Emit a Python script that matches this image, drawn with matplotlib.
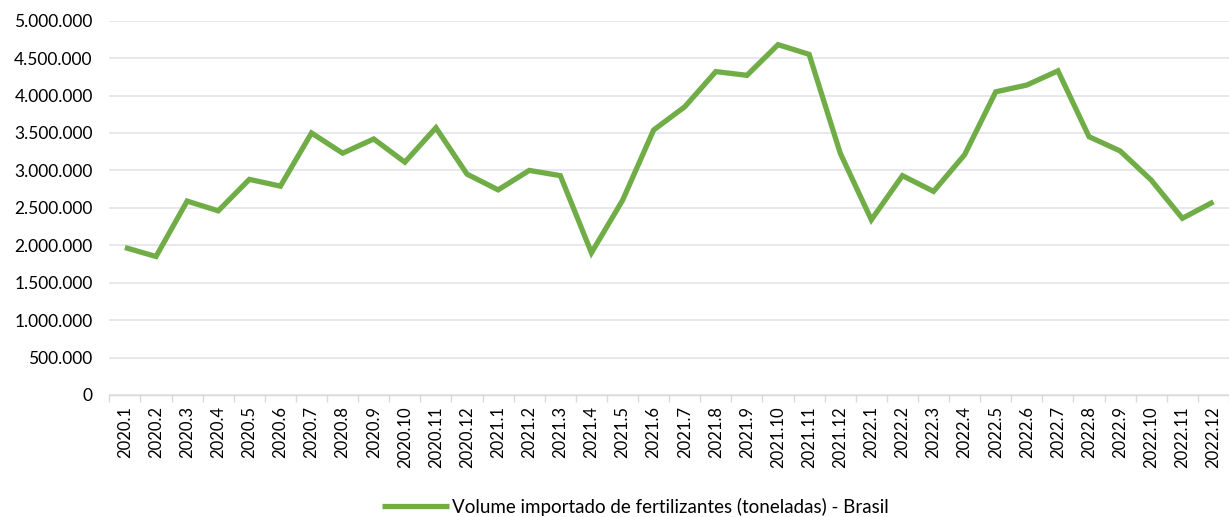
import matplotlib.pyplot as plt
from matplotlib.ticker import FuncFormatter, FixedLocator

plt.rcParams['font.family'] = ['Lato', 'DejaVu Sans']

meses = ['2020.%d' % m for m in range(1, 13)] + \
        ['2021.%d' % m for m in range(1, 13)] + \
        ['2022.%d' % m for m in range(1, 13)]

volume = [1970000, 1850000, 2590000, 2460000, 2880000, 2790000,
          3500000, 3230000, 3420000, 3110000, 3570000, 2950000,
          2740000, 3000000, 2930000, 1900000, 2600000, 3540000,
          3850000, 4320000, 4270000, 4680000, 4550000, 3230000,
          2340000, 2930000, 2720000, 3210000, 4050000, 4140000,
          4330000, 3450000, 3260000, 2870000, 2360000, 2580000]

serie = 'Volume importado de fertilizantes (toneladas) - Brasil'

fig = plt.figure(figsize=(12.29, 5.17), dpi=100)
ax = fig.add_axes([0.089, 0.236, 0.911, 0.724])

x = list(range(len(meses)))
ax.plot(x, volume, color='#70AD47', linewidth=3.8, solid_joinstyle='miter',
        solid_capstyle='butt', label=serie, zorder=3)

ax.set_xlim(-0.5, len(meses) - 0.5)
ax.set_ylim(0, 5000000)
ax.set_yticks(range(0, 5000001, 500000))
ax.yaxis.set_major_formatter(FuncFormatter(lambda v, p: '{:,.0f}'.format(v).replace(',', '.')))
ax.grid(axis='y', color='#e1e4ea', linewidth=1.2, zorder=0)

ax.set_xticks(x)
ax.set_xticklabels(meses, rotation=90, fontsize=12)
ax.xaxis.set_minor_locator(FixedLocator([i - 0.5 for i in range(len(meses) + 1)]))
ax.tick_params(axis='x', which='major', length=0, pad=8)
ax.tick_params(axis='x', which='minor', length=5, color='#d9d9d9', width=1)
ax.tick_params(axis='y', length=0, labelsize=12.5, pad=12)

for s in ['top', 'right', 'left']:
    ax.spines[s].set_visible(False)
ax.spines['bottom'].set_color('#d9d9d9')
ax.spines['bottom'].set_linewidth(1)

fig.legend(loc='lower center', bbox_to_anchor=(0.517, -0.03), frameon=False,
           fontsize=13.5, handlelength=3.6, handletextpad=0.15)

fig.savefig('out.png', dpi=100)
